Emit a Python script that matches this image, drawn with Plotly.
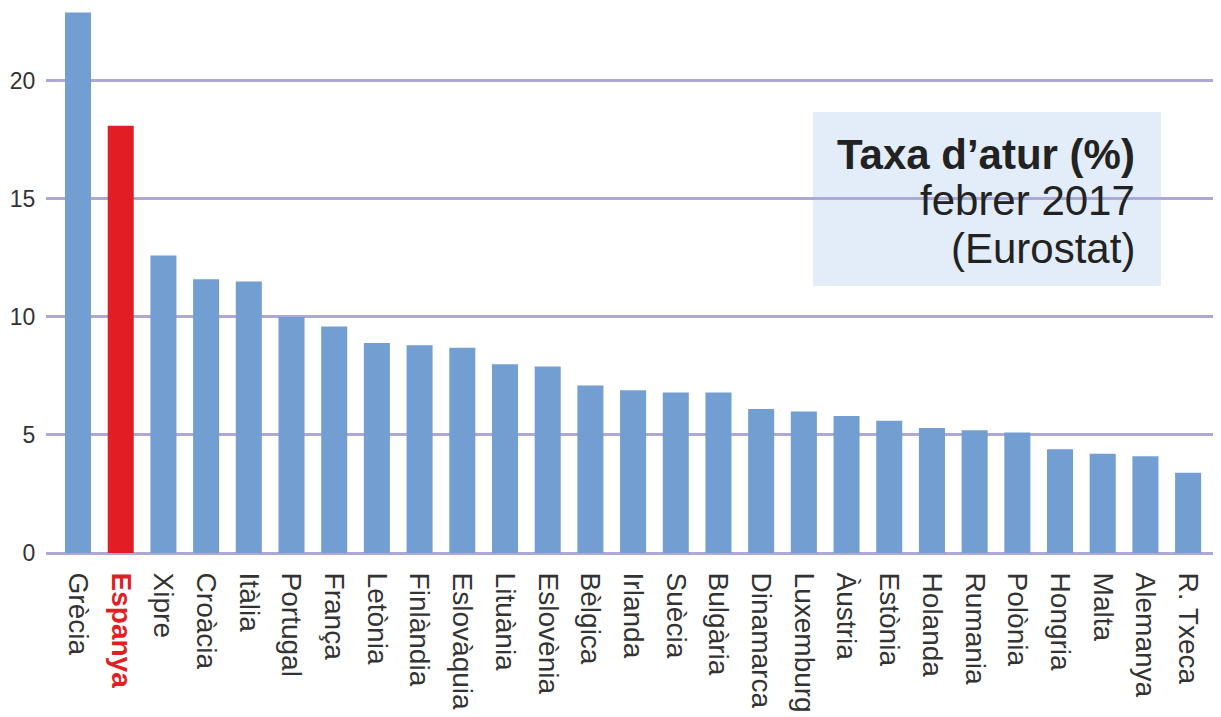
import plotly.graph_objects as go

countries = ["Grècia", "Espanya", "Xipre", "Croàcia", "Itàlia", "Portugal", "França",
             "Letònia", "Finlàndia", "Eslovàquia", "Lituània", "Eslovènia", "Bèlgica",
             "Irlanda", "Suècia", "Bulgària", "Dinamarca", "Luxemburg", "Àustria",
             "Estònia", "Holanda", "Rumania", "Polònia", "Hongria", "Malta",
             "Alemanya", "R. Txeca"]
rates = [22.9, 18.1, 12.6, 11.6, 11.5, 10.0, 9.6, 8.9, 8.8, 8.7, 8.0, 7.9, 7.1,
         6.9, 6.8, 6.8, 6.1, 6.0, 5.8, 5.6, 5.3, 5.2, 5.1, 4.4, 4.2, 4.1, 3.4]
highlight = "Espanya"
y_ticks = [0, 5, 10, 15, 20]

BLUE = "#739ed2"
RED = "#e31d24"
GRID = "#aea8d6"
TXT = "#333333"

colors = [RED if c == highlight else BLUE for c in countries]
tick_text = [f"<b><span style='color:{RED}'>{c}</span></b>" if c == highlight else c
             for c in countries]

fig = go.Figure(go.Bar(
    x=list(range(len(countries))), y=rates,
    marker=dict(color=colors, line=dict(width=0)),
    width=0.61,
))

W, H = 1213, 709
L, T, B = 38, 0, 164
PW, PH = W - L, H - T - B

fig.update_layout(
    width=W, height=H,
    margin=dict(l=L, r=0, t=T, b=B, autoexpand=False),
    paper_bgcolor="white", plot_bgcolor="white",
    showlegend=False,
    font=dict(family="Liberation Sans, Arial, sans-serif", color=TXT),
    xaxis=dict(
        tickmode="array", tickvals=list(range(len(countries))), ticktext=tick_text,
        tickangle=90, range=[-0.75, 26.77], automargin=False,
        showgrid=False, zeroline=False, showline=False,
        ticks="outside", ticklen=13, tickcolor="rgba(0,0,0,0)",
        tickfont=dict(size=28, color=TXT),
    ),
    yaxis=dict(
        range=[0, 23.09], tickvals=y_ticks, automargin=False,
        showgrid=True, gridcolor=GRID, gridwidth=3,
        zeroline=True, zerolinecolor=GRID, zerolinewidth=3,
        showline=False,
        ticks="outside", ticklen=5, tickcolor="rgba(0,0,0,0)",
        tickfont=dict(size=23, color=TXT),
    ),
)

# positions below are given in page pixels (page offset of 8 px)
def px(xp):
    return (xp - 8 - L) / PW

def py(yp):
    return (8 + T + PH - yp) / PH

fig.add_shape(type="rect", xref="paper", yref="paper",
              x0=px(813), x1=px(1161), y0=py(286), y1=py(112),
              fillcolor="#e2edf9", line=dict(width=0), layer="between")

lines = [("<b>Taxa d’atur (%)</b>", 154), ("febrer 2017", 201), ("(Eurostat)", 248)]
for txt, ypix in lines:
    fig.add_annotation(text=txt, xref="paper", yref="paper",
                       x=px(1137), y=py(ypix),
                       xanchor="right", yanchor="middle", showarrow=False,
                       font=dict(size=42, color="#222222",
                                 family="Liberation Sans, Arial, sans-serif"))

fig.write_html("out.html")
